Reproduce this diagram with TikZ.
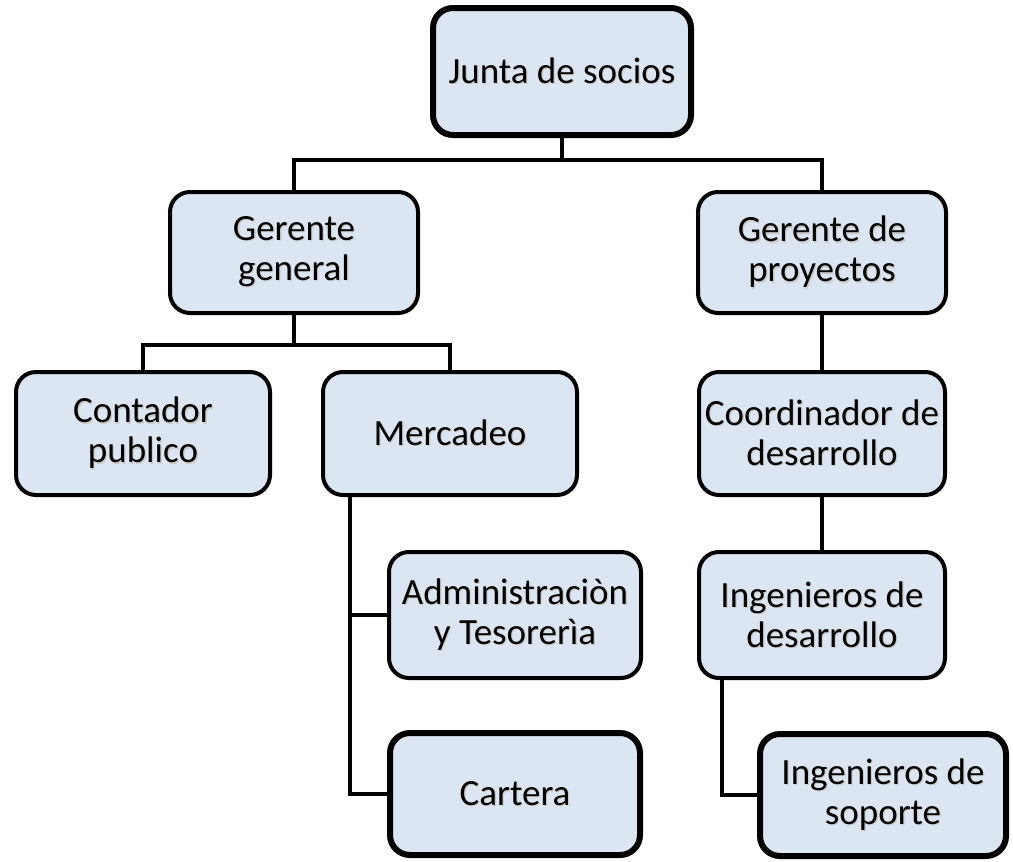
\documentclass[tikz,border=0pt]{standalone}
\usepackage{fontspec}
\setmainfont{Carlito}
\definecolor{boxfill}{HTML}{DCE6F2}
\newcommand\shtext[1]{\leavevmode\rlap{\hspace{1.3pt}\raisebox{-1.3pt}{\color{black!20}#1}}#1}
\begin{document}
\begin{tikzpicture}[x=1pt,y=-1pt,
  orgbox/.style={draw=black, line width=4pt, fill=boxfill, rounded corners=20pt,
    align=center, inner sep=0pt, font=\fontsize{37}{40}\selectfont},
  thickbox/.style={orgbox, line width=6pt},
  conn/.style={draw=black, line width=4pt}]
\useasboundingbox (0,0) rectangle (1013,862);
\node[thickbox, minimum width=258pt, minimum height=127pt] (J) at (562,71.5) {\shtext{Junta de socios}};
\node[orgbox, minimum width=248pt, minimum height=121pt] (GG) at (294,252.5) {\shtext{Gerente}\\\shtext{general}};
\node[orgbox, minimum width=248pt, minimum height=121pt] (GP) at (822,252.5) {\shtext{Gerente de}\\\shtext{proyectos}};
\node[orgbox, minimum width=254pt, minimum height=123pt] (CP) at (143,433.5) {\shtext{Contador}\\\shtext{publico}};
\node[orgbox, minimum width=254pt, minimum height=123pt] (M) at (450,433.5) {\shtext{Mercadeo}};
\node[orgbox, minimum width=246pt, minimum height=123pt] (CD) at (822,433.5) {\shtext{Coordinador de}\\\shtext{desarrollo}};
\node[orgbox, minimum width=252pt, minimum height=126pt] (A) at (515,615) {\shtext{Administraciòn}\\\shtext{y Tesorerìa}};
\node[orgbox, minimum width=246pt, minimum height=126pt] (ID) at (822,615) {\shtext{Ingenieros de}\\\shtext{desarrollo}};
\node[thickbox, minimum width=250pt, minimum height=122pt] (C) at (515,794) {\shtext{Cartera}};
\node[thickbox, minimum width=246pt, minimum height=122pt] (IS) at (883,795) {\shtext{Ingenieros de}\\\shtext{soporte}};
\coordinate (j1) at (562,160);
\coordinate (g1) at (294,345);
\coordinate (mx) at (350,0);
\coordinate (ix) at (722,0);
\draw[conn] (J.south) -- (j1);
\draw[conn] (GG.north) |- (j1) -| (GP.north);
\draw[conn] (GG.south) -- (g1);
\draw[conn] (CP.north) |- (g1) -| (M.north);
\draw[conn] (GP.south) -- (CD.north);
\draw[conn] (CD.south) -- (ID.north);
\draw[conn] (mx |- M.south) -- (mx |- C.west) -- (C.west);
\draw[conn] (mx |- A.west) -- (A.west);
\draw[conn] (ix |- ID.south) -- (ix |- IS.west) -- (IS.west);
\end{tikzpicture}
\end{document}
